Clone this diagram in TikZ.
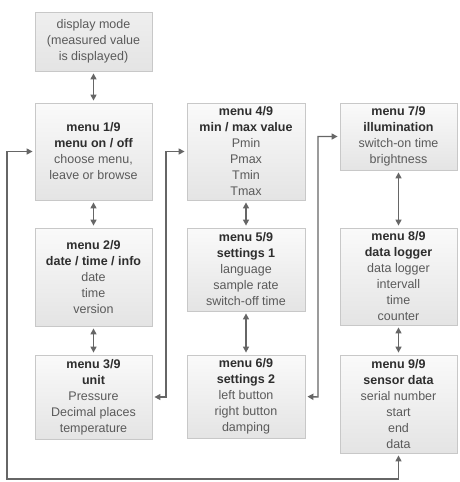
\documentclass[tikz,border=0pt]{standalone}
\usepackage{fontspec}
\setmainfont{Liberation Sans}
\usetikzlibrary{arrows.meta,shadows}
\definecolor{boxline}{HTML}{C8C8C8}
\definecolor{boxtop}{HTML}{FAFAFA}
\definecolor{boxbot}{HTML}{E4E4E4}
\definecolor{titlecol}{HTML}{2E2E2E}
\definecolor{textcol}{HTML}{5A5A5A}
\definecolor{linecol}{HTML}{666666}
\tikzset{
  menubox/.style={draw=boxline, line width=0.8pt, top color=boxtop, bottom color=boxbot,
    align=center, inner sep=0pt, font=\fontsize{12.5}{16}\selectfont, text=textcol,
    drop shadow={opacity=0.12, shadow xshift=1.2pt, shadow yshift=-1.2pt}},
  conn/.style={draw=linecol, line width=1.4pt, shorten <=2pt, shorten >=2pt,
    {Triangle[length=6pt,width=6pt]}-{Triangle[length=6pt,width=6pt]}},
}
\newcommand{\ttl}[1]{\textbf{\color{titlecol}#1}}
\begin{document}
\begin{tikzpicture}[x=1pt,y=-1pt]
\useasboundingbox (0,0) rectangle (459,482);
\node[menubox, minimum width=117pt, minimum height=59pt, top color=boxbot!60, bottom color=boxbot] (disp) at (93.5,41.5) {display mode\\(measured value\\is displayed)};
\node[menubox, minimum width=117pt, minimum height=97pt] (m1) at (93.5,151.5) {\ttl{menu 1/9}\\\ttl{menu on / off}\\choose menu,\\leave or browse};
\node[menubox, minimum width=117pt, minimum height=98pt] (m2) at (93.5,277) {\ttl{menu 2/9}\\\ttl{date / time / info}\\date\\time\\version};
\node[menubox, minimum width=117pt, minimum height=84pt] (m3) at (93.5,397) {\ttl{menu 3/9}\\\ttl{unit}\\Pressure\\Decimal places\\temperature};
\node[menubox, minimum width=118pt, minimum height=97pt] (m4) at (246,151.5) {\ttl{menu 4/9}\\\ttl{min / max value}\\Pmin\\Pmax\\Tmin\\Tmax};
\node[menubox, minimum width=118pt, minimum height=83pt] (m5) at (246,269.5) {\ttl{menu 5/9}\\\ttl{settings 1}\\language\\sample rate\\switch-off time};
\node[menubox, minimum width=118pt, minimum height=83pt] (m6) at (246,396.5) {\ttl{menu 6/9}\\\ttl{settings 2}\\left button\\right button\\damping};
\node[menubox, minimum width=117pt, minimum height=67pt] (m7) at (398.5,136.5) {\ttl{menu 7/9}\\\ttl{illumination}\\switch-on time\\brightness};
\node[menubox, minimum width=117pt, minimum height=97pt] (m8) at (398.5,276.5) {\ttl{menu 8/9}\\\ttl{data logger}\\data logger\\intervall\\time\\counter};
\node[menubox, minimum width=117pt, minimum height=98pt] (m9) at (398.5,404) {\ttl{menu 9/9}\\\ttl{sensor data}\\serial number\\start\\end\\data};
\coordinate (lb) at (7,479);
\coordinate (c34) at (166,397);
\coordinate (c67) at (318,397);
\draw[conn] (disp) -- (m1);
\draw[conn] (m1) -- (m2);
\draw[conn] (m2) -- (m3);
\draw[conn] (m4) -- (m5);
\draw[conn] (m5) -- (m6);
\draw[conn] (m7) -- (m8);
\draw[conn] (m8) -- (m9);
\draw[conn] (m3.east) -- (c34) |- (m4.west);
\draw[conn] (m6.east) -- (c67) |- (m7.west);
\draw[conn] (m9.south) |- (lb) |- (m1.west);
\end{tikzpicture}
\end{document}
